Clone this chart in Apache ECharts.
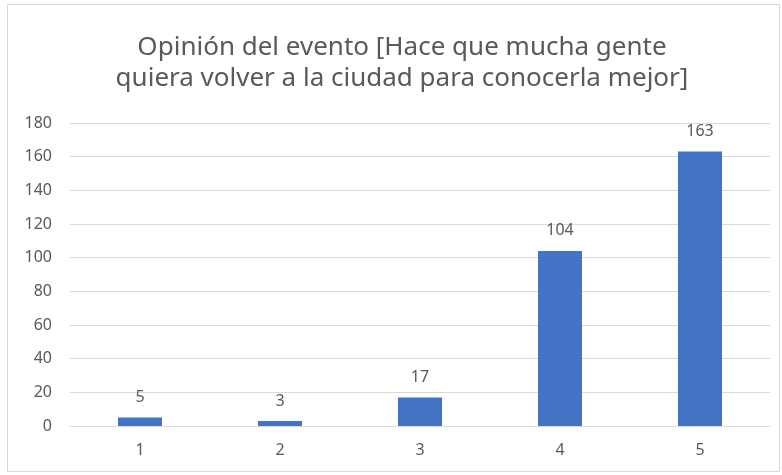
<!DOCTYPE html>
<html lang="es">
<head>
    <meta charset="UTF-8">
    <title>index</title>
    <script src="https://cdn.jsdelivr.net/npm/echarts@6/dist/echarts.min.js"></script>
    <style>
        html, body { margin: 0; padding: 0; background: #fff; }
        #chart { width: 782px; height: 475px; }
        #frame {
            position: absolute; left: 7px; top: 4px;
            width: 773px; height: 468px;
            border: 1px solid #d9d9d9; box-sizing: border-box;
            pointer-events: none;
        }
    </style>
</head>
<body>
    <div id="chart"></div>
    <div id="frame"></div>
<script>
    // datos
    var categories = ['1', '2', '3', '4', '5'];
    var values = [5, 3, 17, 104, 163];
    var titleText = 'Opinión del evento [Hace que mucha gente\nquiera volver a la ciudad para conocerla mejor]';

    var textColor = '#595959';
    var font = '"Noto Sans", "Open Sans", sans-serif';

    var chart = echarts.init(document.getElementById('chart'));
    chart.setOption({
        animation: false,
        // título como texto centrado en x=402 (el de Excel no está centrado en la ventana)
        graphic: [{
            type: 'text',
            x: 402,
            y: 32,
            style: {
                text: titleText,
                align: 'center',
                verticalAlign: 'top',
                fill: textColor,
                fontFamily: font,
                fontSize: 26,
                lineHeight: 31
            }
        }],
        grid: { left: 70, right: 12, top: 123, bottom: 49, containLabel: false },
        xAxis: {
            type: 'category',
            data: categories,
            axisLine: { lineStyle: { color: '#d9d9d9', width: 1 } },
            axisTick: { show: false },
            axisLabel: { color: textColor, fontFamily: font, fontSize: 16, margin: 16 }
        },
        yAxis: {
            type: 'value',
            min: 0,
            max: 180,
            interval: 20,
            axisLine: { show: false },
            axisTick: { show: false },
            splitLine: { lineStyle: { color: '#d9d9d9', width: 1 } },
            axisLabel: { color: textColor, fontFamily: font, fontSize: 16, margin: 18 }
        },
        series: [{
            type: 'bar',
            data: values,
            barWidth: 44,
            itemStyle: { color: '#4472c4' },
            label: {
                show: true,
                position: 'top',
                distance: 12,
                color: textColor,
                fontFamily: font,
                fontSize: 16
            }
        }]
    });
</script>
</body>
</html>
